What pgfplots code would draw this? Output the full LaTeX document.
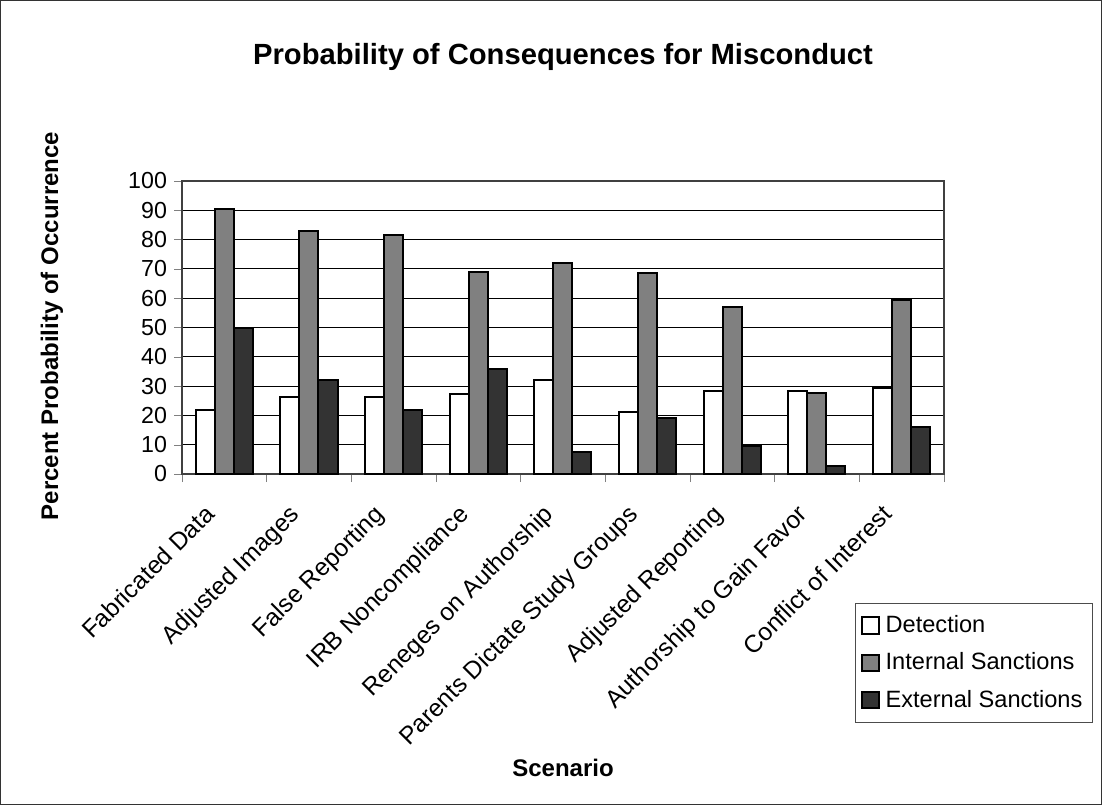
\documentclass[border=0pt]{standalone}
\usepackage{pgfplots}
\pgfplotsset{compat=1.18}
\usepackage{fontspec}
\setmainfont{Liberation Sans}
\definecolor{intgray}{RGB}{128,128,128}
\definecolor{extgray}{RGB}{51,51,51}
\begin{document}
\begin{tikzpicture}
\draw[line width=0.6pt, black!80] (0.3pt,0.3pt) rectangle (550.7pt,402.2pt);
\begin{axis}[
  at={(91pt,165.5pt)}, anchor=south west,
  scale only axis, width=381pt, height=146.5pt,
  ybar=0pt, bar width=9.5pt,
  xmin=-0.5, xmax=8.5, ymin=0, ymax=100,
  ytick={0,10,...,100},
  xtick={0,...,8},
  xticklabels={Fabricated Data, Adjusted Images, False Reporting, IRB Noncompliance, Reneges on Authorship, Parents Dictate Study Groups, Adjusted Reporting, Authorship to Gain Favor, Conflict of Interest},
  x tick label style={xshift=-10.5pt, yshift=-9pt, rotate=45, anchor=north east, inner sep=1pt, font=\fontsize{12.3}{14}\selectfont},
  y tick label style={font=\fontsize{11.6}{13}\selectfont},
  major x tick style={draw=none},
  minor xtick={-0.5,0.5,...,8.5},
  minor tick length=4pt,
  major tick length=4pt,
  tick align=outside,
  xtick pos=bottom, ytick pos=left,
  ymajorgrids, grid style={black, line width=0.5pt},
  axis line style={line width=0.9pt, black!75},
  /pgf/number format/assume math mode=true,
  legend style={at={(0.883,-0.44)}, anchor=north west, draw=black!70, line width=0.6pt,
    font=\fontsize{11.8}{13}\selectfont, row sep=4.6pt, inner xsep=3pt, inner ysep=4pt,
    /tikz/every odd column/.append style={column sep=1pt}},
  legend image code/.code={\draw[#1, line width=0.9pt] (0pt,-4.1pt) rectangle (8.2pt,4.1pt);},
  legend cell align=left,
  every axis plot/.append style={draw=black, line width=1pt},
]
\addplot[fill=white] coordinates {(0,21.7) (1,26.2) (2,26.2) (3,27.3) (4,32.2) (5,21.0) (6,28.2) (7,28.2) (8,29.4)};
\addplot[fill=intgray] coordinates {(0,90.3) (1,82.9) (2,81.5) (3,68.8) (4,71.9) (5,68.5) (6,56.9) (7,27.8) (8,59.5)};
\addplot[fill=extgray] coordinates {(0,49.9) (1,32.2) (2,21.7) (3,35.9) (4,7.6) (5,19.0) (6,9.5) (7,2.6) (8,16.1)};
\legend{Detection, Internal Sanctions, External Sanctions}
\end{axis}
\node[font=\bfseries\fontsize{14.6}{17}\selectfont] at (281.5pt,374pt) {Probability of Consequences for Misconduct};
\node[font=\bfseries\fontsize{12}{14}\selectfont] at (281.5pt,18.5pt) {Scenario};
\node[font=\bfseries\fontsize{12}{14}\selectfont, rotate=90] at (26pt,239.5pt) {Percent Probability of Occurrence};
\end{tikzpicture}
\end{document}
